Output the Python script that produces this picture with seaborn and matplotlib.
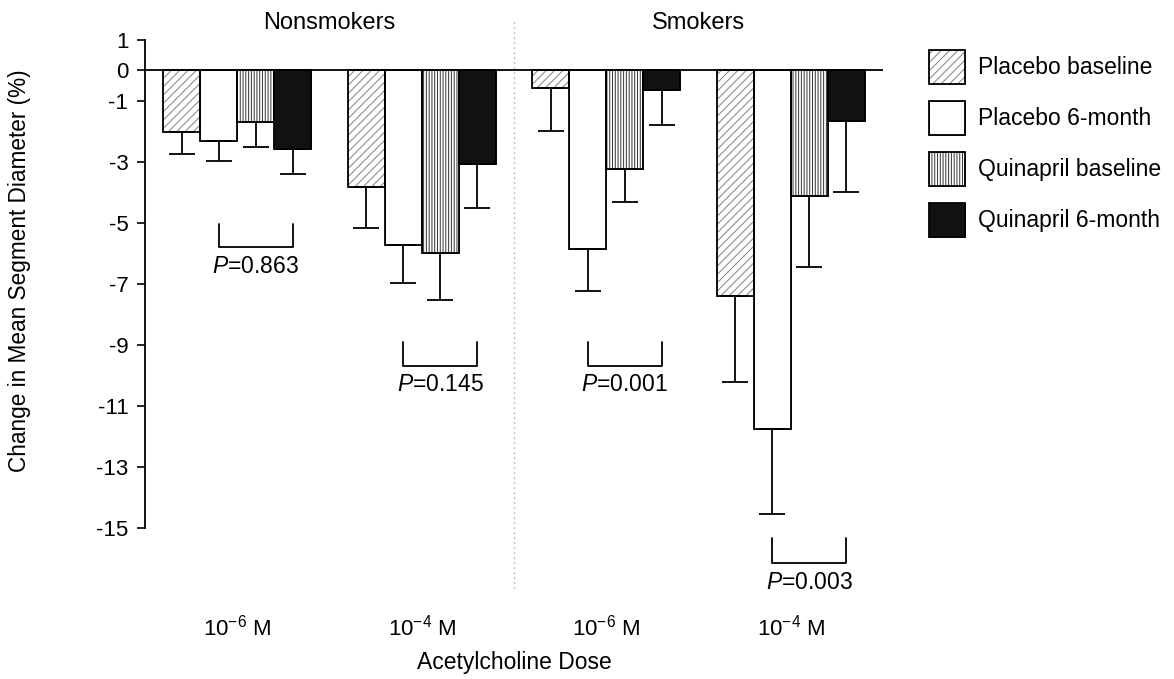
import matplotlib
matplotlib.use("Agg")
import matplotlib.pyplot as plt
from matplotlib.patches import Rectangle, Patch
from matplotlib.transforms import blended_transform_factory
import seaborn as sns
import pandas as pd
import numpy as np

# ---------------- data ----------------
groups = ["Nonsmokers", "Nonsmokers", "Smokers", "Smokers"]
doses = ["10$^{-6}$ M", "10$^{-4}$ M", "10$^{-6}$ M", "10$^{-4}$ M"]
series = ["Placebo baseline", "Placebo 6-month", "Quinapril baseline", "Quinapril 6-month"]

placebo_baseline = [-2.02, -3.82, -0.57, -7.38]
placebo_6month = [-2.30, -5.72, -5.85, -11.75]
quinapril_baseline = [-1.69, -5.98, -3.22, -4.13]
quinapril_6month = [-2.57, -3.08, -0.63, -1.64]

placebo_baseline_err = [0.71, 1.34, 1.43, 2.82]
placebo_6month_err = [0.67, 1.25, 1.38, 2.81]
quinapril_baseline_err = [0.83, 1.56, 1.08, 2.30]
quinapril_6month_err = [0.84, 1.42, 1.17, 2.35]

p_values = ["0.863", "0.145", "0.001", "0.003"]

values = [placebo_baseline, placebo_6month, quinapril_baseline, quinapril_6month]
errors = [placebo_baseline_err, placebo_6month_err, quinapril_baseline_err, quinapril_6month_err]

# ---------------- style ----------------
sns.set_style("ticks")
plt.rcParams["font.family"] = ["Liberation Sans", "DejaVu Sans"]
plt.rcParams["mathtext.fontset"] = "custom"
plt.rcParams["mathtext.rm"] = "Liberation Sans"
plt.rcParams["mathtext.it"] = "Liberation Sans:italic"
plt.rcParams["mathtext.bf"] = "Liberation Sans:bold"
plt.rcParams["axes.unicode_minus"] = False
plt.rcParams["hatch.linewidth"] = 0.7
for key in ["text.color", "axes.labelcolor", "xtick.color", "ytick.color", "axes.edgecolor"]:
    plt.rcParams[key] = "black"

FS = 16

cats = [f"c{i}" for i in range(len(doses))]
rows = []
for s, vals in zip(series, values):
    for c, v in zip(cats, vals):
        rows.append({"cat": c, "series": s, "value": v})
df = pd.DataFrame(rows)

fills = {"Placebo baseline": "white", "Placebo 6-month": "white",
         "Quinapril baseline": "white", "Quinapril 6-month": "#111111"}
hatches = ["////", "", "||||||", ""]
hatch_colors = ["#808080", "#111111", "#333333", "#111111"]

fig = plt.figure(figsize=(11.74, 6.79), dpi=100)
ax = fig.add_axes([145 / 1174, 1 - 595 / 679, 738 / 1174, 555 / 679])

sns.barplot(data=df, x="cat", y="value", hue="series", order=cats, hue_order=series,
            palette=fills, saturation=1, errorbar=None, width=0.8, linewidth=0.5,
            legend=False, ax=ax)

bar_containers = list(ax.containers)
centers = []
for k, cont in enumerate(bar_containers):
    cc = []
    for p in cont.patches:
        p.set_hatch(hatches[k])
        p.set_edgecolor(hatch_colors[k])
        ax.add_patch(Rectangle(p.get_xy(), p.get_width(), p.get_height(),
                               fill=False, ec="black", lw=1.3, zorder=3))
        cc.append(p.get_x() + p.get_width() / 2)
    centers.append(cc)
for k in range(len(series)):
    ax.errorbar(centers[k], values[k], yerr=[errors[k], np.zeros(len(errors[k]))], fmt="none",
                ecolor="black", elinewidth=1.3, capsize=9.5, capthick=1.3, zorder=2)

ax.axhline(0, color="black", lw=1.3, zorder=4)

ax.set_xlim(-0.5, 3.5)
ax.set_ylim(-17.2, 1)
ax.set_yticks([1, 0, -1, -3, -5, -7, -9, -11, -13, -15])
ax.set_xticks(range(len(doses)))
ax.set_xticklabels(doses, fontsize=FS)
ax.tick_params(axis="x", length=0, pad=14)
ax.tick_params(axis="y", length=6, width=1.2, labelsize=FS, pad=6)
for s in ["top", "right", "bottom"]:
    ax.spines[s].set_visible(False)
ax.spines["left"].set_bounds(-15, 1)
ax.spines["left"].set_linewidth(1.3)

ax.set_ylabel("Change in Mean Segment Diameter (%)", fontsize=16.3)
ax.yaxis.set_label_coords(-0.155, 0.585)
ax.set_xlabel("Acetylcholine Dose", fontsize=16.5)
ax.xaxis.set_label_coords(0.5, -0.1)

# group headers and divider
tr = blended_transform_factory(ax.transData, fig.transFigure)
ax.text(0.5, 1 - 23 / 679, "Nonsmokers", transform=tr, ha="center", va="center", fontsize=17)
ax.text(2.5, 1 - 23 / 679, "Smokers", transform=tr, ha="center", va="center", fontsize=17)
ax.plot([1.5, 1.5], [1.6, -17.0], ls=(0, (1, 3)), color="#999999", lw=0.9, clip_on=False)

# significance brackets
bracket_top = [-5.03, -8.9, -8.9, -15.33]
bracket_bot = [-5.8, -9.68, -9.68, -16.15]
for i in range(len(doses)):
    x1, x2 = centers[1][i], centers[3][i]
    ax.plot([x1, x1, x2, x2], [bracket_top[i], bracket_bot[i], bracket_bot[i], bracket_top[i]],
            color="black", lw=1.3, clip_on=False)
    ax.text((x1 + x2) / 2, bracket_bot[i] - 0.25, f"$P$={p_values[i]}", ha="center", va="top",
            fontsize=16.5, clip_on=False)

# legend
handles = []
for k in range(len(series)):
    handles.append((Patch(facecolor=fills[series[k]], edgecolor=hatch_colors[k], hatch=hatches[k], lw=0.5),
                    Patch(facecolor="none", edgecolor="black", lw=1.3)))
fig.legend(handles, series, loc="upper left", bbox_to_anchor=(929 / 1174, 1 - 50 / 679),
           frameon=False, fontsize=16.5, handlelength=1.58, handleheight=1.93,
           labelspacing=0.72, handletextpad=0.57, borderpad=0, borderaxespad=0)

fig.savefig("out.png", dpi=100)
